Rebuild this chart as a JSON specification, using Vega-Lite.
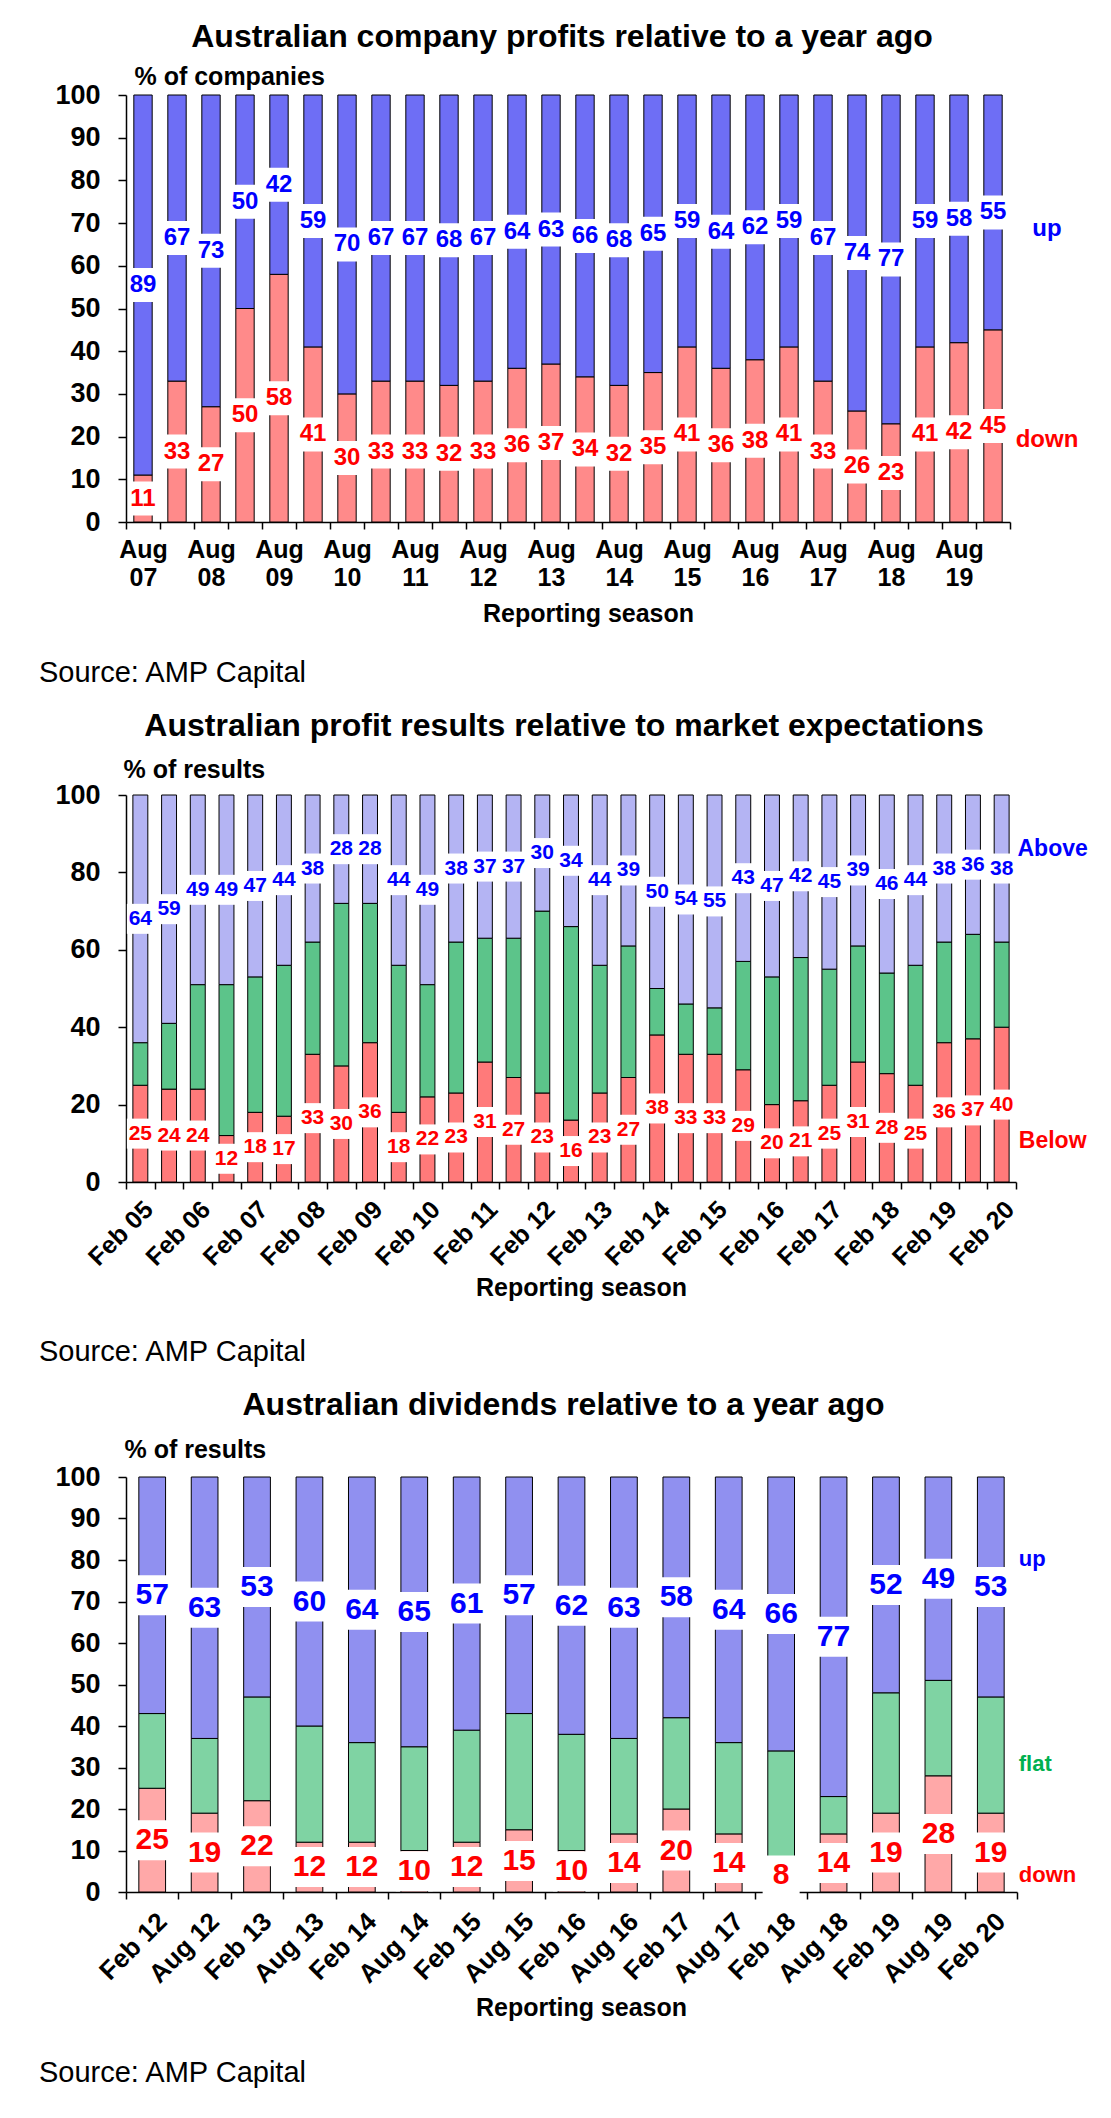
{
  "$schema": "https://vega.github.io/schema/vega-lite/v6.json",
  "background": "white",
  "padding": {"left": 38, "top": 21, "right": 5, "bottom": 5},
  "spacing": 22,
  "vconcat": [
    {
      "title": {"text": "Source: AMP Capital", "orient": "bottom", "anchor": "start", "frame": "bounds", "fontSize": 29, "fontWeight": "normal", "offset": 33, "dx": -16},
      "vconcat": [
        {
          "width": 884,
          "height": 427,
          "title": {"text": "Australian  company profits relative to a year ago", "offset": 10, "dx": -6},
          "layer": [
            {
              "data": {
                "values": [
                  {"s": "Aug 07", "down": 11, "up": 89},
                  {"s": "Feb 08", "down": 33, "up": 67},
                  {"s": "Aug 08", "down": 27, "up": 73},
                  {"s": "Feb 09", "down": 50, "up": 50},
                  {"s": "Aug 09", "down": 58, "up": 42},
                  {"s": "Feb 10", "down": 41, "up": 59},
                  {"s": "Aug 10", "down": 30, "up": 70},
                  {"s": "Feb 11", "down": 33, "up": 67},
                  {"s": "Aug 11", "down": 33, "up": 67},
                  {"s": "Feb 12", "down": 32, "up": 68},
                  {"s": "Aug 12", "down": 33, "up": 67},
                  {"s": "Feb 13", "down": 36, "up": 64},
                  {"s": "Aug 13", "down": 37, "up": 63},
                  {"s": "Feb 14", "down": 34, "up": 66},
                  {"s": "Aug 14", "down": 32, "up": 68},
                  {"s": "Feb 15", "down": 35, "up": 65},
                  {"s": "Aug 15", "down": 41, "up": 59},
                  {"s": "Feb 16", "down": 36, "up": 64},
                  {"s": "Aug 16", "down": 38, "up": 62},
                  {"s": "Feb 17", "down": 41, "up": 59},
                  {"s": "Aug 17", "down": 33, "up": 67},
                  {"s": "Feb 18", "down": 26, "up": 74},
                  {"s": "Aug 18", "down": 23, "up": 77},
                  {"s": "Feb 19", "down": 41, "up": 59},
                  {"s": "Aug 19", "down": 42, "up": 58},
                  {"s": "Feb 20", "down": 45, "up": 55}
                ]
              },
              "transform": [
                {"fold": ["down", "up"], "as": ["k", "v"]},
                {"calculate": "indexof(['down','up'], datum.k)", "as": "o"},
                {"stack": "v", "groupby": ["s"], "sort": [{"field": "o", "order": "ascending"}], "as": ["v0", "v1"]},
                {"calculate": "(datum.v0 + datum.v1) / 2", "as": "mid"}
              ],
              "layer": [
                {
                  "mark": {"type": "bar", "width": {"band": 0.54}, "stroke": "#000", "strokeWidth": 1},
                  "encoding": {
                    "x": {
                      "field": "s", "type": "nominal", "sort": null,
                      "scale": {"paddingInner": 0, "paddingOuter": 0},
                      "axis": {
                        "title": "Reporting season", "titleFontSize": 25, "titleX": 462, "titleY": 91, "titleBaseline": "middle",
                        "labelExpr": "indexof(datum.label, 'Aug') == 0 ? split(datum.label, ' ') : ''",
                        "labelAngle": 0, "labelFontSize": 25, "labelLineHeight": 28, "labelBaseline": "top", "labelPadding": 8,
                        "labelOverlap": false, "tickBand": "extent", "tickSize": 7
                      }
                    },
                    "y": {
                      "field": "v0", "type": "quantitative", "scale": {"domain": [0, 100]},
                      "axis": {
                        "values": [0, 10, 20, 30, 40, 50, 60, 70, 80, 90, 100],
                        "labelFontSize": 27, "labelPadding": 18, "tickSize": 8, "labelOverlap": false,
                        "title": "% of companies", "titleAngle": 0, "titleAlign": "left", "titleBaseline": "middle",
                        "titleX": 8, "titleY": -19, "titleFontSize": 25
                      }
                    },
                    "y2": {"field": "v1"},
                    "color": {"condition": {"test": "datum.k == 'up'", "value": "#6e6ef5"}, "value": "#ff8a8a"}
                  }
                },
                {
                  "mark": {"type": "point", "shape": "M-0.85,-1H0.85V1H-0.85Z", "size": 1156, "filled": true, "color": "#ffffff", "opacity": 1},
                  "encoding": {
                    "x": {"field": "s", "type": "nominal", "sort": null},
                    "y": {"field": "mid", "type": "quantitative"}
                  }
                },
                {
                  "mark": {"type": "text", "fontSize": 24, "fontWeight": "bold", "baseline": "middle"},
                  "encoding": {
                    "x": {"field": "s", "type": "nominal", "sort": null},
                    "y": {"field": "mid", "type": "quantitative"},
                    "text": {"field": "v", "type": "quantitative"},
                    "color": {"condition": {"test": "datum.k == 'up'", "value": "#0000ff"}, "value": "#ff0000"}
                  }
                }
              ]
            },
            {
              "data": {"values": [{"t": "up", "y": 68.6}, {"t": "down", "y": 19.2}]},
              "mark": {"type": "text", "fontSize": 24, "fontWeight": "bold", "baseline": "middle", "dx": 54},
              "encoding": {
                "x": {"datum": "Feb 20", "type": "nominal"},
                "y": {"field": "y", "type": "quantitative"},
                "text": {"field": "t"},
                "color": {"condition": {"test": "datum.t == 'up'", "value": "#0000ff"}, "value": "#ff0000"}
              }
            }
          ]
        }
      ]
    },
    {
      "title": {"text": "Source: AMP Capital", "orient": "bottom", "anchor": "start", "frame": "bounds", "fontSize": 29, "fontWeight": "normal", "offset": 38, "dx": -16},
      "vconcat": [
        {
          "width": 890,
          "height": 387,
          "title": {"text": "Australian  profit results relative to market expectations", "offset": 14, "dx": -7},
          "layer": [
            {
              "data": {
                "values": [
                  {"s": "Feb 05", "below": 25, "inline": 11, "above": 64},
                  {"s": "Aug 05", "below": 24, "inline": 17, "above": 59},
                  {"s": "Feb 06", "below": 24, "inline": 27, "above": 49},
                  {"s": "Aug 06", "below": 12, "inline": 39, "above": 49},
                  {"s": "Feb 07", "below": 18, "inline": 35, "above": 47},
                  {"s": "Aug 07", "below": 17, "inline": 39, "above": 44},
                  {"s": "Feb 08", "below": 33, "inline": 29, "above": 38},
                  {"s": "Aug 08", "below": 30, "inline": 42, "above": 28},
                  {"s": "Feb 09", "below": 36, "inline": 36, "above": 28},
                  {"s": "Aug 09", "below": 18, "inline": 38, "above": 44},
                  {"s": "Feb 10", "below": 22, "inline": 29, "above": 49},
                  {"s": "Aug 10", "below": 23, "inline": 39, "above": 38},
                  {"s": "Feb 11", "below": 31, "inline": 32, "above": 37},
                  {"s": "Aug 11", "below": 27, "inline": 36, "above": 37},
                  {"s": "Feb 12", "below": 23, "inline": 47, "above": 30},
                  {"s": "Aug 12", "below": 16, "inline": 50, "above": 34},
                  {"s": "Feb 13", "below": 23, "inline": 33, "above": 44},
                  {"s": "Aug 13", "below": 27, "inline": 34, "above": 39},
                  {"s": "Feb 14", "below": 38, "inline": 12, "above": 50},
                  {"s": "Aug 14", "below": 33, "inline": 13, "above": 54},
                  {"s": "Feb 15", "below": 33, "inline": 12, "above": 55},
                  {"s": "Aug 15", "below": 29, "inline": 28, "above": 43},
                  {"s": "Feb 16", "below": 20, "inline": 33, "above": 47},
                  {"s": "Aug 16", "below": 21, "inline": 37, "above": 42},
                  {"s": "Feb 17", "below": 25, "inline": 30, "above": 45},
                  {"s": "Aug 17", "below": 31, "inline": 30, "above": 39},
                  {"s": "Feb 18", "below": 28, "inline": 26, "above": 46},
                  {"s": "Aug 18", "below": 25, "inline": 31, "above": 44},
                  {"s": "Feb 19", "below": 36, "inline": 26, "above": 38},
                  {"s": "Aug 19", "below": 37, "inline": 27, "above": 36},
                  {"s": "Feb 20", "below": 40, "inline": 22, "above": 38}
                ]
              },
              "transform": [
                {"fold": ["below", "inline", "above"], "as": ["k", "v"]},
                {"calculate": "indexof(['below','inline','above'], datum.k)", "as": "o"},
                {"stack": "v", "groupby": ["s"], "sort": [{"field": "o", "order": "ascending"}], "as": ["v0", "v1"]},
                {"calculate": "(datum.v0 + datum.v1) / 2", "as": "mid"}
              ],
              "layer": [
                {
                  "mark": {"type": "bar", "width": {"band": 0.52}, "stroke": "#000", "strokeWidth": 1},
                  "encoding": {
                    "x": {
                      "field": "s", "type": "nominal", "sort": null,
                      "scale": {"paddingInner": 0, "paddingOuter": 0},
                      "axis": {
                        "title": "Reporting season", "titleFontSize": 25, "titleX": 455, "titleY": 105, "titleBaseline": "middle",
                        "labelExpr": "indexof(datum.label, 'Feb') == 0 ? datum.label : ''",
                        "labelAngle": -45, "labelAlign": "right", "labelBaseline": "middle", "labelFontSize": 25,
                        "labelPadding": 16, "labelOffset": 8, "labelOverlap": false, "tickBand": "extent", "tickSize": 7
                      }
                    },
                    "y": {
                      "field": "v0", "type": "quantitative", "scale": {"domain": [0, 100]},
                      "axis": {
                        "values": [0, 10, 20, 30, 40, 50, 60, 70, 80, 90, 100],
                        "labelFontSize": 27, "labelPadding": 18, "tickSize": 8, "labelOverlap": false,
                        "title": "% of results", "titleAngle": 0, "titleAlign": "left", "titleBaseline": "middle",
                        "titleX": -3, "titleY": -26, "titleFontSize": 25
                      }
                    },
                    "y2": {"field": "v1"},
                    "color": {"condition": [{"test": "datum.k == 'above'", "value": "#b4b4f3"}, {"test": "datum.k == 'inline'", "value": "#5cc48a"}], "value": "#ff7a7a"}
                  }
                },
                {
                  "transform": [{"filter": "datum.k != 'inline'"}],
                  "mark": {"type": "point", "shape": "M-0.9,-1H0.9V1H-0.9Z", "size": 900, "filled": true, "color": "#ffffff", "opacity": 1},
                  "encoding": {
                    "x": {"field": "s", "type": "nominal", "sort": null},
                    "y": {"field": "mid", "type": "quantitative"}
                  }
                },
                {
                  "transform": [{"filter": "datum.k != 'inline'"}],
                  "mark": {"type": "text", "fontSize": 21, "fontWeight": "bold", "baseline": "middle"},
                  "encoding": {
                    "x": {"field": "s", "type": "nominal", "sort": null},
                    "y": {"field": "mid", "type": "quantitative"},
                    "text": {"field": "v", "type": "quantitative"},
                    "color": {"condition": {"test": "datum.k == 'above'", "value": "#0000ff"}, "value": "#ff0000"}
                  }
                }
              ]
            },
            {
              "data": {"values": [{"t": "Above", "y": 86}, {"t": "Below", "y": 10.6}]},
              "mark": {"type": "text", "fontSize": 23, "fontWeight": "bold", "baseline": "middle", "dx": 51},
              "encoding": {
                "x": {"datum": "Feb 20", "type": "nominal"},
                "y": {"field": "y", "type": "quantitative"},
                "text": {"field": "t"},
                "color": {"condition": {"test": "datum.t == 'Above'", "value": "#0000ff"}, "value": "#ff0000"}
              }
            }
          ]
        }
      ]
    },
    {
      "title": {"text": "Source: AMP Capital", "orient": "bottom", "anchor": "start", "frame": "bounds", "fontSize": 29, "fontWeight": "normal", "offset": 39, "dx": -16},
      "vconcat": [
        {
          "width": 891,
          "height": 415,
          "title": {"text": "Australian  dividends relative to a year ago", "offset": 15, "dx": -8},
          "layer": [
            {
              "data": {
                "values": [
                  {"s": "Feb 12", "down": 25, "flat": 18, "up": 57},
                  {"s": "Aug 12", "down": 19, "flat": 18, "up": 63},
                  {"s": "Feb 13", "down": 22, "flat": 25, "up": 53},
                  {"s": "Aug 13", "down": 12, "flat": 28, "up": 60},
                  {"s": "Feb 14", "down": 12, "flat": 24, "up": 64},
                  {"s": "Aug 14", "down": 10, "flat": 25, "up": 65},
                  {"s": "Feb 15", "down": 12, "flat": 27, "up": 61},
                  {"s": "Aug 15", "down": 15, "flat": 28, "up": 57},
                  {"s": "Feb 16", "down": 10, "flat": 28, "up": 62},
                  {"s": "Aug 16", "down": 14, "flat": 23, "up": 63},
                  {"s": "Feb 17", "down": 20, "flat": 22, "up": 58},
                  {"s": "Aug 17", "down": 14, "flat": 22, "up": 64},
                  {"s": "Feb 18", "down": 8, "flat": 26, "up": 66},
                  {"s": "Aug 18", "down": 14, "flat": 9, "up": 77},
                  {"s": "Feb 19", "down": 19, "flat": 29, "up": 52},
                  {"s": "Aug 19", "down": 28, "flat": 23, "up": 49},
                  {"s": "Feb 20", "down": 19, "flat": 28, "up": 53}
                ]
              },
              "transform": [
                {"fold": ["down", "flat", "up"], "as": ["k", "v"]},
                {"calculate": "indexof(['down','flat','up'], datum.k)", "as": "o"},
                {"stack": "v", "groupby": ["s"], "sort": [{"field": "o", "order": "ascending"}], "as": ["v0", "v1"]},
                {"calculate": "(datum.v0 + datum.v1) / 2", "as": "mid"}
              ],
              "layer": [
                {
                  "mark": {"type": "bar", "width": {"band": 0.51}, "stroke": "#000", "strokeWidth": 1},
                  "encoding": {
                    "x": {
                      "field": "s", "type": "nominal", "sort": null,
                      "scale": {"paddingInner": 0, "paddingOuter": 0},
                      "axis": {
                        "title": "Reporting season", "titleFontSize": 25, "titleX": 455, "titleY": 115, "titleBaseline": "middle",
                        "labelAngle": -45, "labelAlign": "right", "labelBaseline": "middle", "labelFontSize": 26,
                        "labelPadding": 18, "labelOffset": 10, "labelOverlap": false, "tickBand": "extent", "tickSize": 7
                      }
                    },
                    "y": {
                      "field": "v0", "type": "quantitative", "scale": {"domain": [0, 100]},
                      "axis": {
                        "values": [0, 10, 20, 30, 40, 50, 60, 70, 80, 90, 100],
                        "labelFontSize": 27, "labelPadding": 18, "tickSize": 8, "labelOverlap": false,
                        "title": "% of results", "titleAngle": 0, "titleAlign": "left", "titleBaseline": "middle",
                        "titleX": -2, "titleY": -28, "titleFontSize": 25
                      }
                    },
                    "y2": {"field": "v1"},
                    "color": {"condition": [{"test": "datum.k == 'up'", "value": "#9090f0"}, {"test": "datum.k == 'flat'", "value": "#7fd3a3"}], "value": "#ffa8a8"}
                  }
                },
                {
                  "transform": [{"filter": "datum.k != 'flat'"}],
                  "mark": {"type": "point", "shape": "M-0.925,-1H0.925V1H-0.925Z", "size": 1600, "filled": true, "color": "#ffffff", "opacity": 1},
                  "encoding": {
                    "x": {"field": "s", "type": "nominal", "sort": null},
                    "y": {"field": "mid", "type": "quantitative"}
                  }
                },
                {
                  "transform": [{"filter": "datum.k != 'flat'"}],
                  "mark": {"type": "text", "fontSize": 30, "fontWeight": "bold", "baseline": "middle"},
                  "encoding": {
                    "x": {"field": "s", "type": "nominal", "sort": null},
                    "y": {"field": "mid", "type": "quantitative"},
                    "text": {"field": "v", "type": "quantitative"},
                    "color": {"condition": {"test": "datum.k == 'up'", "value": "#0000ff"}, "value": "#ff0000"}
                  }
                }
              ]
            },
            {
              "data": {"values": [{"t": "up", "y": 80.3}, {"t": "flat", "y": 30.9}, {"t": "down", "y": 4.2}]},
              "mark": {"type": "text", "fontSize": 22, "fontWeight": "bold", "baseline": "middle", "align": "left", "dx": 28},
              "encoding": {
                "x": {"datum": "Feb 20", "type": "nominal"},
                "y": {"field": "y", "type": "quantitative"},
                "text": {"field": "t"},
                "color": {"condition": [{"test": "datum.t == 'up'", "value": "#0000ff"}, {"test": "datum.t == 'flat'", "value": "#00b050"}], "value": "#ff0000"}
              }
            }
          ]
        }
      ]
    }
  ],
  "config": {
    "font": "Liberation Sans",
    "view": {"stroke": null},
    "title": {"fontSize": 32, "fontWeight": "bold", "color": "#000000", "anchor": "middle"},
    "axis": {
      "grid": false,
      "domainColor": "#000000", "domainWidth": 1.5,
      "tickColor": "#000000", "tickWidth": 1.5,
      "labelColor": "#000000", "labelFontWeight": "bold",
      "titleColor": "#000000", "titleFontWeight": "bold"
    }
  }
}
